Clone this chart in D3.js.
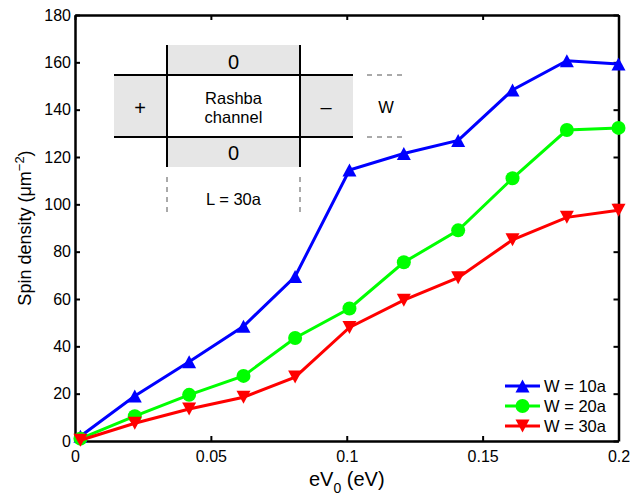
<!DOCTYPE html>
<html>
<head>
<meta charset="utf-8">
<script src="https://cdn.jsdelivr.net/npm/d3@7"></script>
<style>
    body { margin: 0; background: #fff; }
    svg text { font-family: "Liberation Sans", Arial, sans-serif; fill: #000; }
</style>
</head>
<body>
<svg id="chart" width="631" height="496"></svg>
<script>
//chart data
var xValues = [0.002, 0.022, 0.042, 0.062, 0.081, 0.101, 0.121, 0.141, 0.161, 0.181, 0.2];
var w10 = [2, 19, 33.5, 48.5, 69.5, 114.5, 121.5, 127, 148.3, 160.7, 159.3];
var w20 = [1, 10.5, 19.5, 27.5, 43.5, 56, 75.5, 89, 111, 131.4, 132.3];
var w30 = [0.3, 7.5, 13.5, 18.5, 27, 48, 59.5, 69, 85, 94.5, 97.5];
var seriesNames = ["W = 10a", "W = 20a", "W = 30a"];
var xTicks = [0, 0.05, 0.1, 0.15, 0.2];
var yTicks = [0, 20, 40, 60, 80, 100, 120, 140, 160, 180];

var series = [
    { name: seriesNames[0], values: w10, color: "#0000ff", marker: "up" },
    { name: seriesNames[1], values: w20, color: "#00ff00", marker: "circle" },
    { name: seriesNames[2], values: w30, color: "#ff0000", marker: "down" }
];

var margin = { left: 75, right: 631 - 618.5, top: 15, bottom: 496 - 441 };
var width = 631 - margin.left - margin.right;
var height = 496 - margin.top - margin.bottom;

var svg = d3.select("#chart");
var g = svg.append("g").attr("transform", "translate(" + margin.left + "," + margin.top + ")");

var x = d3.scaleLinear().domain([0, 0.2]).range([0, width]);
var y = d3.scaleLinear().domain([0, 180]).range([height, 0]);

/*---------------------------------- axes ----------------------------------*/

//bottom and left axes with labels, ticks pointing inward
g.append("g")
    .attr("transform", "translate(0," + height + ")")
    .call(d3.axisBottom(x).tickValues(xTicks).tickSizeInner(-5).tickSizeOuter(0).tickPadding(10)
        .tickFormat(function (d) { return d3.format("")(+d.toFixed(2)); }))
    .call(styleAxis);

g.append("g")
    .call(d3.axisLeft(y).tickValues(yTicks).tickSizeInner(-5).tickSizeOuter(0).tickPadding(4))
    .call(styleAxis);

//top and right ticks (box)
g.append("g")
    .call(d3.axisTop(x).tickValues(xTicks).tickSizeInner(-5).tickSizeOuter(0).tickFormat(""))
    .call(styleAxis);
g.append("g")
    .attr("transform", "translate(" + width + ",0)")
    .call(d3.axisRight(y).tickValues(yTicks).tickSizeInner(-5).tickSizeOuter(0).tickFormat(""))
    .call(styleAxis);

function styleAxis(sel) {
    sel.select(".domain").attr("stroke", "#000").attr("stroke-width", 2.5);
    sel.selectAll(".tick line").attr("stroke", "#000").attr("stroke-width", 2);
    sel.selectAll(".tick text").attr("font-size", 16).attr("fill", "#000")
        .style("font-family", "Liberation Sans, Arial, sans-serif");
}

//axis titles
var yTitle = svg.append("text")
    .attr("transform", "translate(31," + (margin.top + height / 2) + ") rotate(-90)")
    .attr("text-anchor", "middle")
    .attr("font-size", 18);
yTitle.append("tspan").text("Spin density (\u03bcm");
yTitle.append("tspan").attr("font-size", 13).attr("dy", -7).text("\u22122");
yTitle.append("tspan").attr("dy", 7).text(")");

var xTitle = svg.append("text")
    .attr("x", margin.left + width / 2)
    .attr("y", 486)
    .attr("text-anchor", "middle")
    .attr("font-size", 20);
xTitle.append("tspan").text("eV");
xTitle.append("tspan").attr("font-size", 14).attr("dy", 7).text("0");
xTitle.append("tspan").attr("dy", -7).text(" (eV)");

/*---------------------------------- inset ----------------------------------*/

var inset = svg.append("g");
var grey = "#e6e6e6";
inset.append("rect").attr("x", 167).attr("y", 45).attr("width", 133).attr("height", 30).attr("fill", grey);
inset.append("rect").attr("x", 167).attr("y", 137).attr("width", 133).attr("height", 30).attr("fill", grey);
inset.append("rect").attr("x", 114).attr("y", 75).attr("width", 53).attr("height", 62).attr("fill", grey);
inset.append("rect").attr("x", 300).attr("y", 75).attr("width", 53).attr("height", 62).attr("fill", grey);

[[114, 75, 353, 75], [114, 137, 353, 137], [167, 45, 167, 167], [300, 45, 300, 167]].forEach(function (l) {
    inset.append("line").attr("x1", l[0]).attr("y1", l[1]).attr("x2", l[2]).attr("y2", l[3])
        .attr("stroke", "#000").attr("stroke-width", 2);
});
[[367, 75, 404, 75], [367, 137, 404, 137], [167, 177, 167, 214], [300, 177, 300, 214]].forEach(function (l) {
    inset.append("line").attr("x1", l[0]).attr("y1", l[1]).attr("x2", l[2]).attr("y2", l[3])
        .attr("stroke", "#555").attr("stroke-width", 1).attr("stroke-dasharray", "5,5");
});

var insetText = [
    ["0", 233.5, 69, 20], ["0", 233.5, 160, 20], ["+", 140, 115, 20], ["\u2013", 326, 114, 20],
    ["Rashba", 233.5, 104, 16.5], ["channel", 233.5, 122.5, 16.5], ["W", 386, 113, 16.5], ["L = 30a", 233.5, 205, 16.5]
];
insetText.forEach(function (t) {
    inset.append("text").attr("x", t[1]).attr("y", t[2]).attr("text-anchor", "middle")
        .attr("font-size", t[3]).text(t[0]);
});

/*---------------------------------- series ----------------------------------*/

function markerPath(type) {
    if (type == "up") return "M0,-6.5L7,6.5L-7,6.5Z";
    if (type == "down") return "M0,6.5L7,-6.5L-7,-6.5Z";
    return d3.symbol().type(d3.symbolCircle).size(Math.PI * 49)();
}

var line = d3.line()
    .x(function (d, i) { return x(xValues[i]); })
    .y(function (d) { return y(d); });

series.forEach(function (s) {
    g.append("path")
        .datum(s.values)
        .attr("d", line)
        .attr("fill", "none")
        .attr("stroke", s.color)
        .attr("stroke-width", 3);
    g.selectAll(".m-" + s.marker)
        .data(s.values)
        .enter().append("path")
        .attr("class", "m-" + s.marker)
        .attr("transform", function (d, i) { return "translate(" + x(xValues[i]) + "," + y(d) + ")"; })
        .attr("d", markerPath(s.marker))
        .attr("fill", s.color);
});

/*---------------------------------- legend ----------------------------------*/

var legend = svg.append("g");
series.forEach(function (s, i) {
    var ly = 386 + i * 20;
    legend.append("line").attr("x1", 505).attr("x2", 540).attr("y1", ly).attr("y2", ly)
        .attr("stroke", s.color).attr("stroke-width", 3);
    legend.append("path").attr("transform", "translate(522.5," + ly + ")")
        .attr("d", markerPath(s.marker)).attr("fill", s.color);
    legend.append("text").attr("x", 544).attr("y", ly + 6).attr("font-size", 16.5).text(s.name);
});
</script>
</body>
</html>
